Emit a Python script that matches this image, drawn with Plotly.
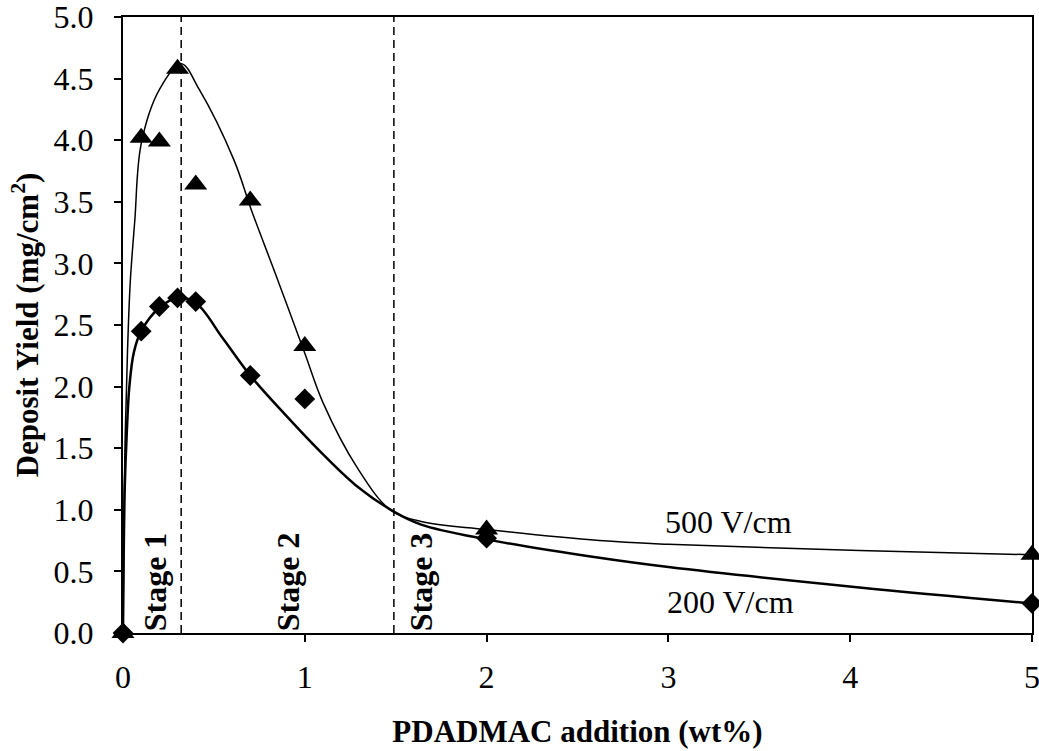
import plotly.graph_objects as go

# ---- data ----
pdadmac = [0, 0.1, 0.2, 0.3, 0.4, 0.7, 1, 2, 5]
yield_500 = [0, 4.02, 3.99, 4.58, 3.64, 3.51, 2.33, 0.84, 0.635]
yield_200 = [0, 2.45, 2.65, 2.72, 2.69, 2.09, 1.90, 0.77, 0.24]

# hand-drawn trend curves
curve500_x = [0, 0.004, 0.012, 0.025, 0.04, 0.065, 0.1, 0.2, 0.32, 0.42, 0.61, 0.707,
              0.85, 1.0, 1.1, 1.285, 1.47, 1.64, 2.0, 2.62, 3.0, 4.05, 5.0]
curve500_y = [0, 0.8, 1.6, 2.3, 2.85, 3.35, 3.97, 4.41, 4.62, 4.41, 3.84, 3.43,
              2.87, 2.27, 1.87, 1.35, 1.0, 0.905, 0.84, 0.75, 0.72, 0.67, 0.635]
curve200_x = [0, 0.004, 0.01, 0.02, 0.035, 0.06, 0.1, 0.2, 0.3, 0.4, 0.55, 0.7,
              0.9, 1.08, 1.28, 1.49, 1.64, 2.0, 2.62, 3.0, 4.05, 5.0]
curve200_y = [0, 0.65, 1.2, 1.6, 2.0, 2.28, 2.45, 2.64, 2.72, 2.68, 2.39, 2.09,
              1.76, 1.48, 1.2, 0.985, 0.88, 0.76, 0.61, 0.535, 0.37, 0.24]

stage_bounds = [0.32, 1.49]
stage_labels = ["Stage 1", "Stage 2", "Stage 3"]
stage_label_x = [0.175, 0.906, 1.638]
series_labels = ["500 V/cm", "200 V/cm"]
series_label_x = [3.33, 3.34]
series_label_y = [0.905, 0.255]

x_ticks = [0, 1, 2, 3, 4, 5]

FONT = "Liberation Serif, Times New Roman, serif"

fig = go.Figure()

fig.add_trace(go.Scatter(x=curve500_x, y=curve500_y, mode="lines",
                         line=dict(color="black", width=1.5, shape="spline", smoothing=1.0),
                         showlegend=False, hoverinfo="skip"))
fig.add_trace(go.Scatter(x=curve200_x, y=curve200_y, mode="lines",
                         line=dict(color="black", width=2.5, shape="spline", smoothing=1.0),
                         showlegend=False, hoverinfo="skip"))
fig.add_trace(go.Scatter(x=pdadmac, y=yield_200, mode="markers", name="200 V/cm",
                         marker=dict(symbol="diamond", size=16, color="black"),
                         cliponaxis=False, showlegend=False))
fig.add_trace(go.Scatter(x=pdadmac, y=yield_500, mode="markers", name="500 V/cm",
                         marker=dict(symbol="triangle-up", size=20, color="black"),
                         cliponaxis=False, showlegend=False))

for xb in stage_bounds:
    fig.add_shape(type="line", x0=xb, x1=xb, y0=0, y1=5, xref="x", yref="y",
                  line=dict(color="black", width=1.5, dash="8px,5px"))

for lbl, lx in zip(stage_labels, stage_label_x):
    fig.add_annotation(x=lx, y=0, xref="x", yref="y", text="<b>%s</b>" % lbl,
                       textangle=-90, showarrow=False, xanchor="center", yanchor="bottom",
                       font=dict(family=FONT, size=32, color="black"))

for lbl, lx, ly in zip(series_labels, series_label_x, series_label_y):
    fig.add_annotation(x=lx, y=ly, xref="x", yref="y", text=lbl, showarrow=False,
                       xanchor="center", yanchor="middle",
                       font=dict(family=FONT, size=32, color="black"))

axis_common = dict(showgrid=False, zeroline=False, showline=True, linecolor="black",
                   linewidth=2, mirror=True, ticks="outside", ticklen=7, tickwidth=1.5,
                   tickcolor="black", ticklabeloverflow="allow",
                   tickfont=dict(family=FONT, size=32, color="black"))

fig.update_xaxes(range=[0, 5], tickvals=x_ticks, ticklabelstandoff=8,
                 title=dict(text="<b>PDADMAC addition (wt%)</b>", standoff=26,
                            font=dict(family=FONT, size=31, color="black")),
                 **axis_common)
fig.update_yaxes(range=[0, 5], dtick=0.5, tick0=0, tickformat=".1f", ticklabelstandoff=14,
                 title=dict(text="<b>Deposit Yield (mg/cm<sup>2</sup>)</b>", standoff=6,
                            font=dict(family=FONT, size=31, color="black")),
                 **axis_common)

fig.update_layout(width=1039, height=751,
                  margin=dict(l=123, r=7, t=17, b=118, autoexpand=False),
                  plot_bgcolor="white", paper_bgcolor="white",
                  font=dict(family=FONT, color="black"))

fig.write_html("out.html", config={"displayModeBar": False},
               post_script="document.body.style.margin='0';")
